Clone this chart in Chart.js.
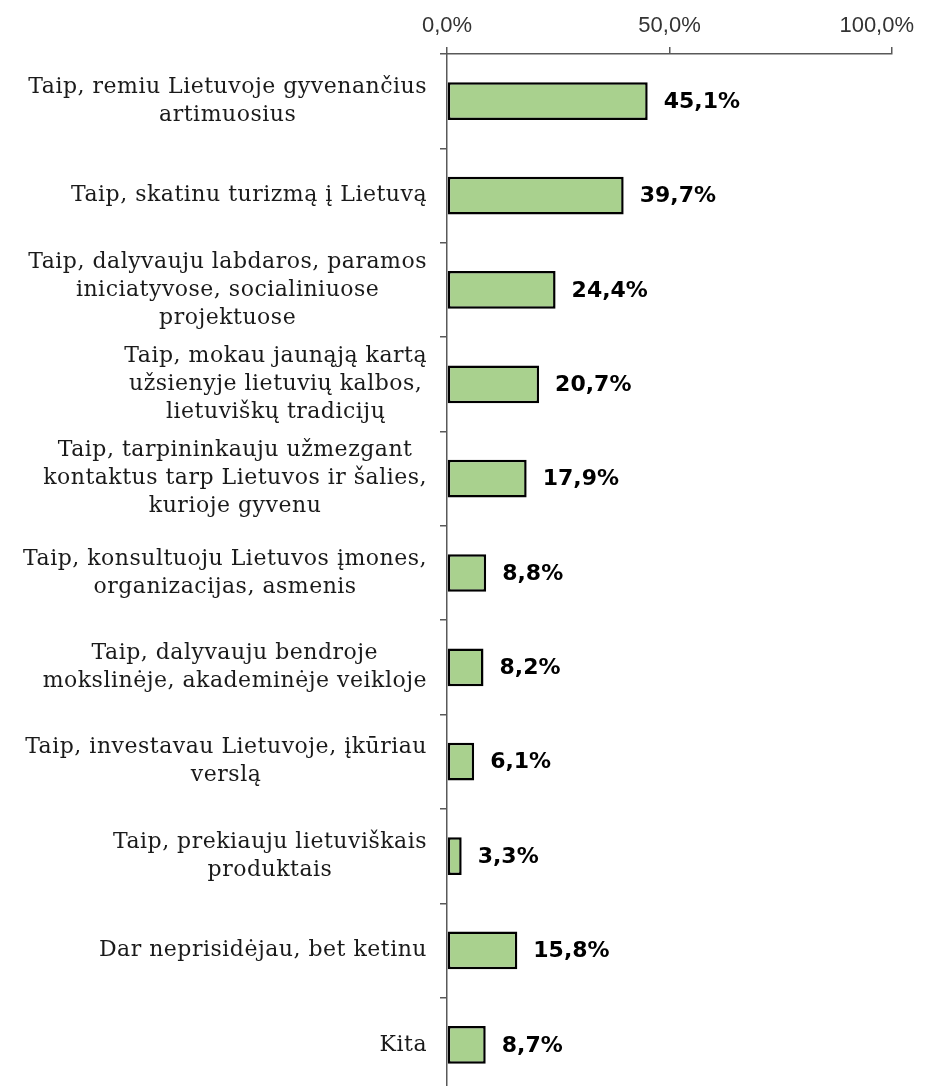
<!DOCTYPE html>
<html>
<head>
<meta charset="utf-8">
<script src="https://cdn.jsdelivr.net/npm/chart.js@4"></script>
<style>
    html, body { margin: 0; padding: 0; background: #fff; overflow: hidden; }
    #wrap { width: 936px; height: 1092px; }
</style>
</head>
<body>
<div id="wrap"><canvas id="supportChart"></canvas></div>
<script>
const categories = [
    ['Taip, remiu Lietuvoje gyvenančius', 'artimuosius'],
    ['Taip, skatinu turizmą į Lietuvą'],
    ['Taip, dalyvauju labdaros, paramos', 'iniciatyvose, socialiniuose', 'projektuose'],
    ['Taip, mokau jaunąją kartą', 'užsienyje lietuvių kalbos,', 'lietuviškų tradicijų'],
    ['Taip, tarpininkauju užmezgant', 'kontaktus tarp Lietuvos ir šalies,', 'kurioje gyvenu'],
    ['Taip, konsultuoju Lietuvos įmones,', 'organizacijas, asmenis'],
    ['Taip, dalyvauju bendroje', 'mokslinėje, akademinėje veikloje'],
    ['Taip, investavau Lietuvoje, įkūriau', 'verslą'],
    ['Taip, prekiauju lietuviškais', 'produktais'],
    ['Dar neprisidėjau, bet ketinu'],
    ['Kita']
];
const shares = [45.1, 39.7, 24.4, 20.7, 17.9, 8.8, 8.2, 6.1, 3.3, 15.8, 8.7];
const xTicks = [0, 50, 100];

const fmt = v => v.toFixed(1).replace('.', ',') + '%';

// category labels: block right aligned, lines centred inside the block
const categoryLabels = {
    id: 'categoryLabels',
    afterDraw(chart) {
        const ctx = chart.ctx;
        const yScale = chart.scales.y;
        const right = chart.chartArea.left - 20;
        const lh = 28;
        ctx.save();
        ctx.font = '22px "DejaVu Serif"';
        ctx.letterSpacing = '0.5px';
        ctx.fillStyle = '#1a1a1a';
        ctx.textAlign = 'center';
        ctx.textBaseline = 'middle';
        categories.forEach((lines, i) => {
            const cy = yScale.getPixelForValue(i);
            const w = Math.max(...lines.map(l => ctx.measureText(l).width));
            const cx = right - w / 2;
            lines.forEach((l, j) => {
                ctx.fillText(l, cx, cy + (j - (lines.length - 1) / 2) * lh);
            });
        });
        ctx.restore();
    }
};

const valueLabels = {
    id: 'valueLabels',
    afterDatasetsDraw(chart) {
        const ctx = chart.ctx;
        const meta = chart.getDatasetMeta(0);
        ctx.save();
        ctx.font = 'bold 22px "DejaVu Sans"';
        ctx.fillStyle = '#000';
        ctx.textAlign = 'left';
        ctx.textBaseline = 'middle';
        meta.data.forEach((bar, i) => {
            ctx.fillText(fmt(shares[i]), bar.x + 16, bar.y + 1);
        });
        ctx.restore();
    }
};

new Chart(document.getElementById('supportChart').getContext('2d'), {
    type: 'bar',
    data: {
        labels: categories.map(c => c.join(' ')),
        datasets: [{
            data: shares,
            backgroundColor: '#a9d18e',
            borderColor: '#000',
            borderWidth: 2.5,
            borderSkipped: false,
            categoryPercentage: 1,
            barPercentage: 0.4
        }]
    },
    options: {
        indexAxis: 'y',
        responsive: true,
        maintainAspectRatio: false,
        animation: false,
        layout: { padding: { left: 0, right: 44, top: 0, bottom: 0 } },
        plugins: {
            legend: { display: false },
            tooltip: { enabled: false }
        },
        scales: {
            x: {
                position: 'top',
                min: 0,
                max: 100,
                afterBuildTicks: scale => { scale.ticks = xTicks.map(v => ({ value: v })); },
                afterFit: scale => {
                    scale.height = 54;
                    scale.paddingLeft = 0;
                    scale.paddingRight = 0;
                },
                ticks: {
                    // last label is pulled inward like in the original
                    callback: v => v === 100 ? fmt(v) + '\u00a0\u00a0\u00a0\u00a0\u00a0' : fmt(v),
                    font: { family: '"Liberation Sans", Arial', size: 22 },
                    color: '#333',
                    padding: 8,
                    maxRotation: 0
                },
                grid: { drawOnChartArea: false, tickLength: 7, color: '#595959', lineWidth: 1.5 },
                border: { color: '#595959', width: 1.5 }
            },
            y: {
                afterFit: scale => { scale.width = 447; },
                ticks: { display: false },
                grid: { offset: true, drawOnChartArea: false, tickLength: 7, color: '#595959', lineWidth: 1.5 },
                border: { color: '#595959', width: 1.5 }
            }
        }
    },
    plugins: [categoryLabels, valueLabels]
});
</script>
</body>
</html>
